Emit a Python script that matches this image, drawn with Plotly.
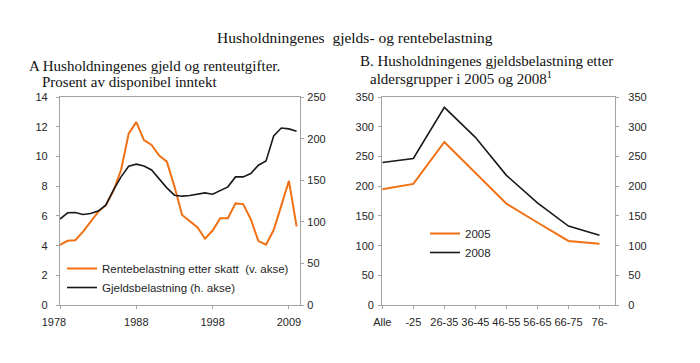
import plotly.graph_objects as go

# ---- Panel A data (index of observation, labels every 10th) ----
obs_index = list(range(32))
a_tick_pos = [0, 10, 20, 30]
a_tick_labels = ["1978", "1988", "1998", "2009"]
rente_etter_skatt = [4.05, 4.33, 4.37, 4.93, 5.6, 6.28, 6.73, 7.7, 9.1, 11.55, 12.33,
                     11.12, 10.79, 10.07, 9.66, 7.98, 6.07, 5.65, 5.25, 4.47, 5.02,
                     5.85, 5.85, 6.85, 6.8, 5.78, 4.31, 4.07, 5.05, 6.7, 8.37, 5.3]
gjeldsbelastning = [103.4, 111, 111.4, 109, 110.2, 113, 120.2, 138.2, 154.2, 167, 169.5,
                    167.4, 162.5, 152.3, 141, 132.2, 131, 131.8, 133, 135, 133.4,
                    138.2, 142.2, 154.2, 154.2, 158.3, 168.3, 173.4, 203.5, 213, 212, 209]

# ---- Panel B data ----
aldersgrupper = ["Alle", "-25", "26-35", "36-45", "46-55", "56-65", "66-75", "76-"]
gjeld_2005 = [195, 204, 274.7, 222.5, 170.8, 139, 107.9, 103.4]
gjeld_2008 = [240, 247, 333, 282.6, 218.5, 172, 133, 117.4]

ORANGE = "#F07014"
BLACK = "#1a1a1a"
AXIS = "#a3a3a3"
TXT = "#262626"
SANS = "Liberation Sans"
SERIF = "Liberation Serif"
NB = "\u00a0"

# first label sits slightly left of its tick in the reference
a_tick_text = [a_tick_labels[0] + NB * 4] + a_tick_labels[1:]

fig = go.Figure()
fig.add_trace(go.Scatter(x=obs_index, y=rente_etter_skatt, mode="lines",
                         line=dict(color=ORANGE, width=2),
                         name="Rentebelastning etter skatt" + NB + " (v. akse)",
                         xaxis="x", yaxis="y", legend="legend"))
fig.add_trace(go.Scatter(x=obs_index, y=gjeldsbelastning, mode="lines",
                         line=dict(color=BLACK, width=1.6),
                         name="Gjeldsbelastning (h. akse)",
                         xaxis="x", yaxis="y2", legend="legend"))
fig.add_trace(go.Scatter(x=aldersgrupper, y=gjeld_2005, mode="lines",
                         line=dict(color=ORANGE, width=2), name="2005",
                         xaxis="x2", yaxis="y3", legend="legend2"))
fig.add_trace(go.Scatter(x=aldersgrupper, y=gjeld_2008, mode="lines",
                         line=dict(color=BLACK, width=1.6), name="2008",
                         xaxis="x2", yaxis="y3", legend="legend2"))
# invisible trace so the right axis of panel B is drawn
fig.add_trace(go.Scatter(x=aldersgrupper, y=gjeld_2008, mode="lines",
                         line=dict(width=0), opacity=0, showlegend=False,
                         hoverinfo="skip", xaxis="x2", yaxis="y4"))

W, H = 700, 363
def px(x): return x / W
def py(y): return (H - y) / H

ydom = [py(305), py(97.3)]
tickfont = dict(family=SANS, size=11, color=TXT)
axis_common = dict(showgrid=False, zeroline=False, showline=True, linecolor=AXIS,
                   linewidth=1.3, ticks="outside", ticklen=3, tickcolor=AXIS,
                   tickfont=tickfont, automargin=False)

fig.update_layout(
    width=W, height=H, margin=dict(l=0, r=0, t=0, b=0),
    paper_bgcolor="white", plot_bgcolor="white",
    xaxis=dict(domain=[px(60), px(300)], range=[0, 31.45], tickvals=a_tick_pos,
               ticktext=a_tick_text, anchor="y", mirror=True,
               ticklabelstandoff=4, **axis_common),
    yaxis=dict(domain=ydom, range=[0, 14], dtick=2, anchor="x",
               ticklabelstandoff=6, **axis_common),
    yaxis2=dict(range=[0, 250], dtick=50, overlaying="y", side="right",
                anchor="x", ticklabelstandoff=1, **axis_common),
    xaxis2=dict(domain=[px(382.3), px(615)], range=[0, 7.5], type="category",
                anchor="y3", mirror=True, ticklabelstandoff=4, **axis_common),
    yaxis3=dict(domain=ydom, range=[0, 350], dtick=50, anchor="x2",
                ticklabelstandoff=2, **axis_common),
    yaxis4=dict(range=[0, 350], dtick=50, overlaying="y3", side="right",
                anchor="x2", ticklabelstandoff=7, **axis_common),
    legend=dict(x=px(62), y=py(254), xanchor="left", yanchor="top",
                bgcolor="rgba(0,0,0,0)", font=dict(family=SANS, size=11.5, color=TXT),
                tracegroupgap=0),
    legend2=dict(x=px(425), y=py(219), xanchor="left", yanchor="top",
                 bgcolor="rgba(0,0,0,0)", font=dict(family=SANS, size=11.5, color=TXT)),
    showlegend=True,
)

annots = [
    dict(text="Husholdningenes" + NB + " gjelds- og rentebelastning", x=px(355), y=py(37),
         xanchor="center", font=dict(family=SERIF, size=15.5, color="#111")),
    dict(text="A Husholdningenes gjeld og renteutgifter.", x=px(27), y=py(66),
         xanchor="left", font=dict(family=SERIF, size=15, color="#111")),
    dict(text="Prosent av disponibel inntekt", x=px(40), y=py(82),
         xanchor="left", font=dict(family=SERIF, size=15, color="#111")),
    dict(text="B. Husholdningenes gjeldsbelastning etter", x=px(358), y=py(61),
         xanchor="left", font=dict(family=SERIF, size=15, color="#111")),
    dict(text="aldersgrupper i 2005 og 2008<sup>1</sup>", x=px(368), y=py(78),
         xanchor="left", font=dict(family=SERIF, size=15, color="#111")),
]
for a in annots:
    fig.add_annotation(xref="paper", yref="paper", yanchor="middle", showarrow=False, **a)

fig.write_html("out.html", config={"displayModeBar": False},
               post_script="document.body.style.margin='0';")
